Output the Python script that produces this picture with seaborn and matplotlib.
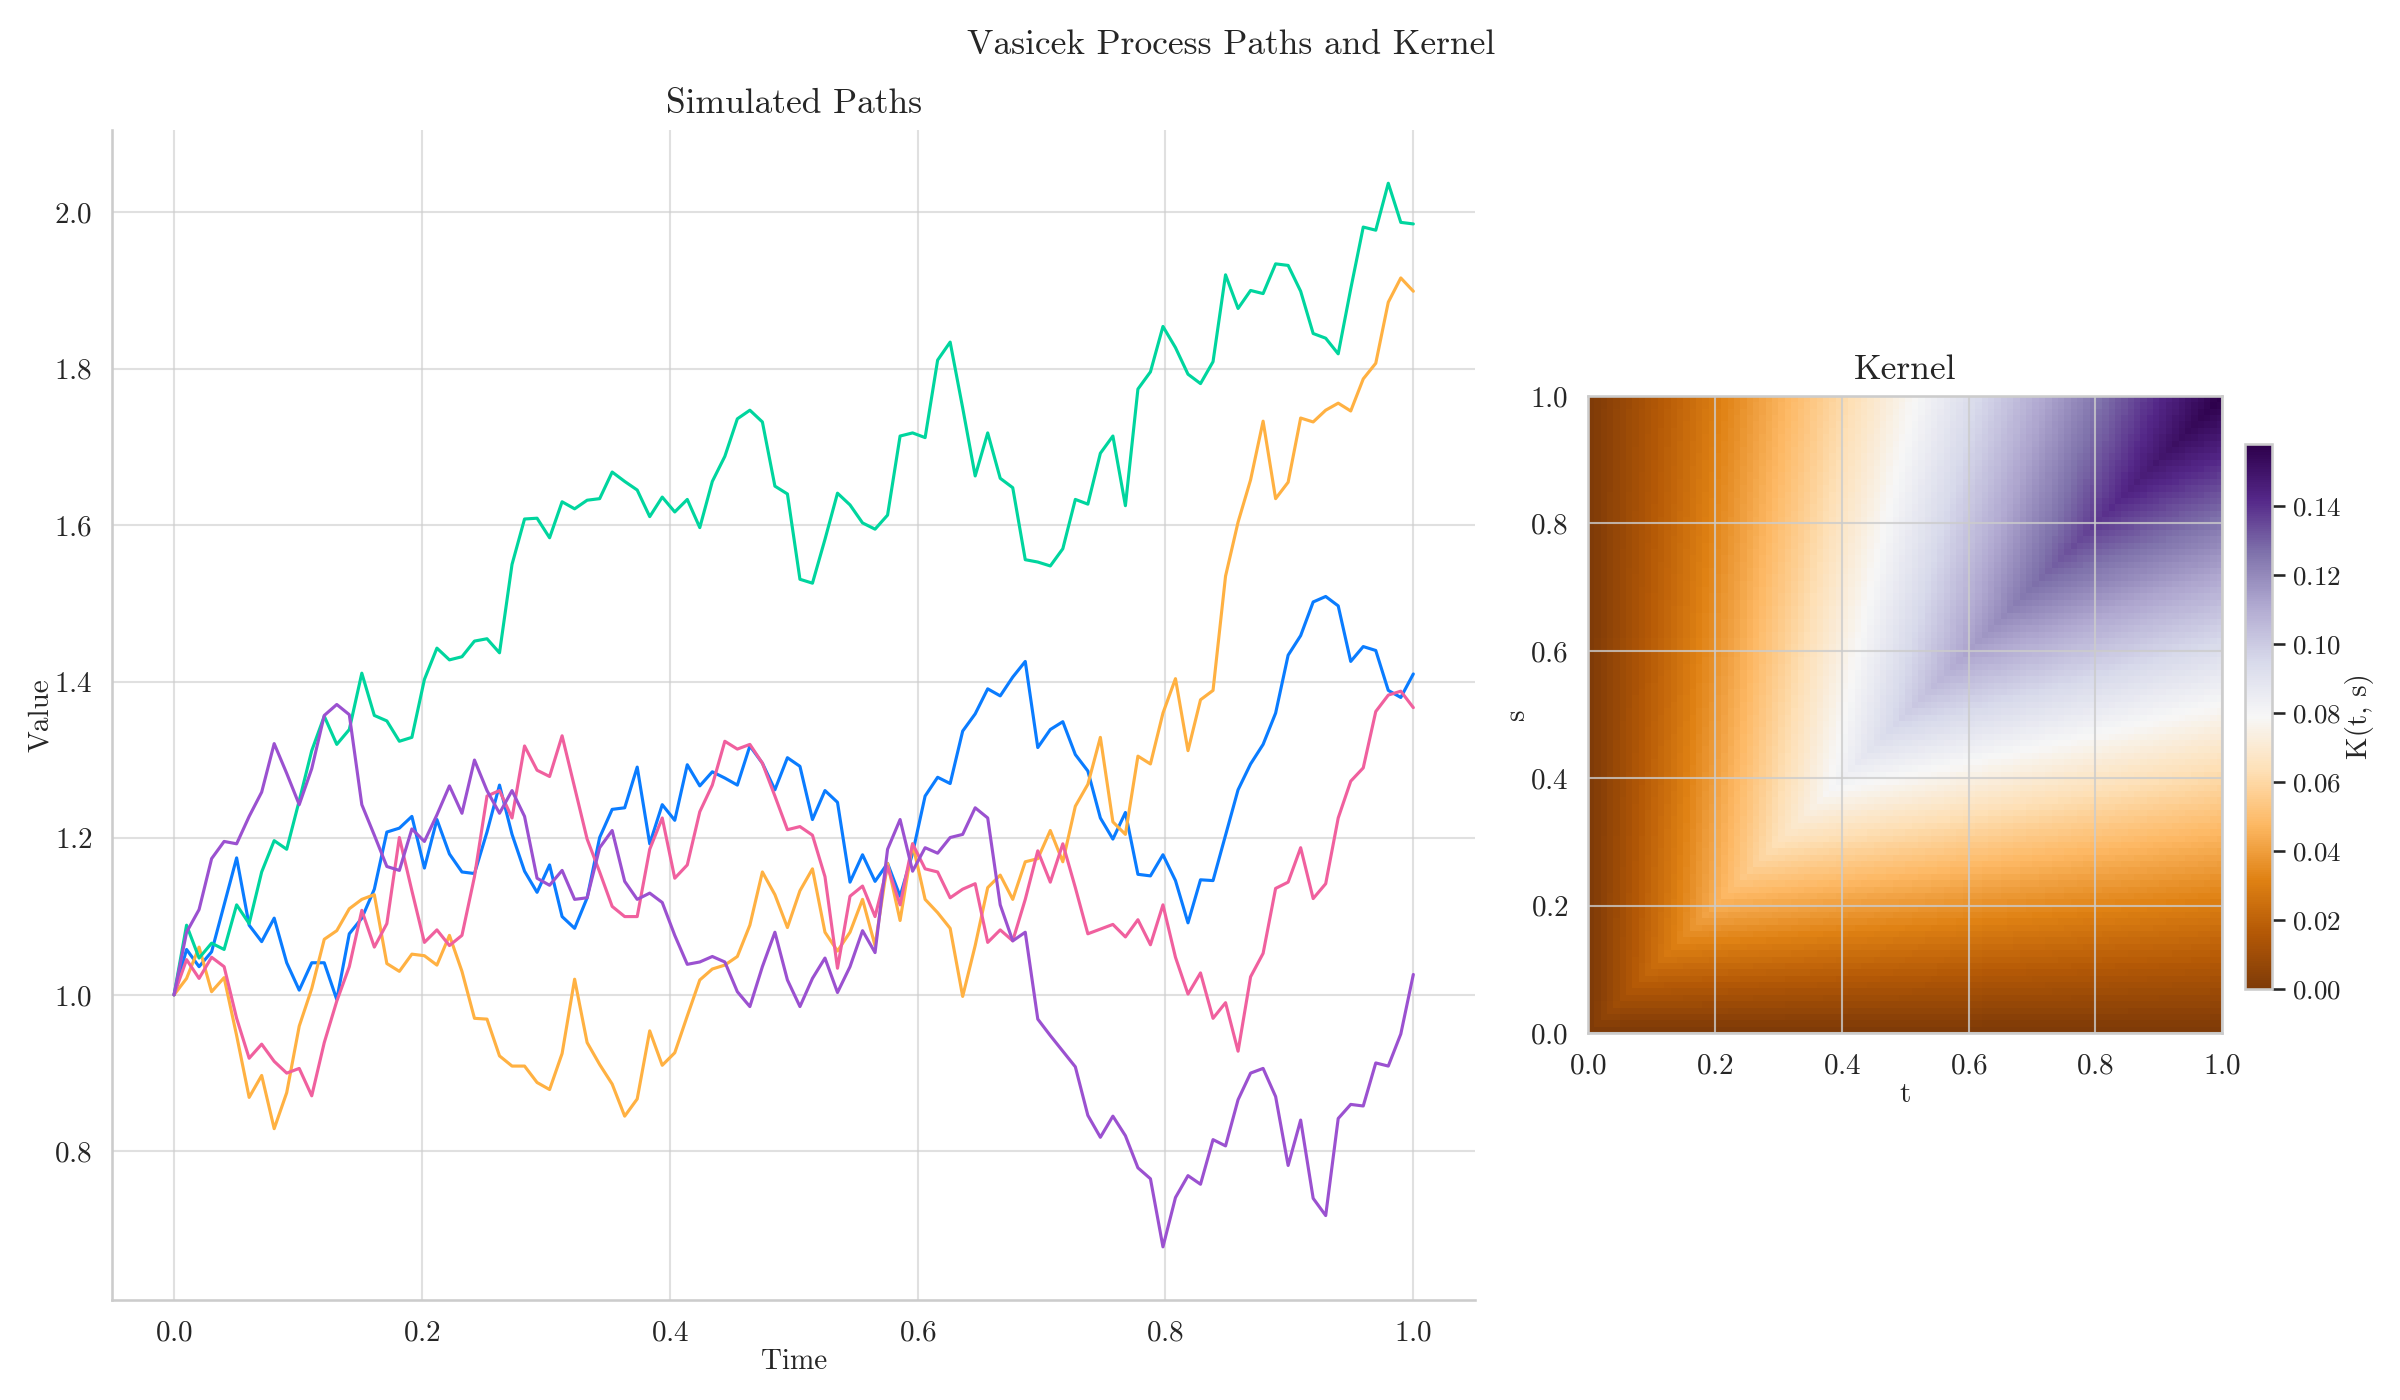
import numpy as np
import pandas as pd
import seaborn as sns
import matplotlib.pyplot as plt

# five simulated paths (100 points on [0, 1])
time = np.linspace(0, 1, 100)

path_blue = [1.000, 1.058, 1.036, 1.055, 1.115, 1.175, 1.089, 1.068, 1.098, 1.041,
             1.006, 1.041, 1.041, 0.994, 1.078, 1.098, 1.135, 1.208, 1.213, 1.228,
             1.162, 1.224, 1.180, 1.157, 1.155, 1.208, 1.268, 1.205, 1.158, 1.131,
             1.166, 1.100, 1.085, 1.124, 1.201, 1.237, 1.239, 1.291, 1.193, 1.243,
             1.223, 1.294, 1.267, 1.285, 1.277, 1.268, 1.318, 1.296, 1.262, 1.303,
             1.292, 1.224, 1.261, 1.246, 1.144, 1.179, 1.145, 1.168, 1.126, 1.181,
             1.254, 1.278, 1.270, 1.337, 1.359, 1.391, 1.382, 1.406, 1.426, 1.316,
             1.339, 1.349, 1.307, 1.286, 1.226, 1.199, 1.233, 1.154, 1.152, 1.179,
             1.146, 1.092, 1.147, 1.146, 1.204, 1.262, 1.295, 1.320, 1.360, 1.434,
             1.459, 1.502, 1.509, 1.497, 1.426, 1.445, 1.440, 1.389, 1.380, 1.410]

path_orange = [1.000, 1.021, 1.061, 1.004, 1.022, 0.948, 0.869, 0.897, 0.829, 0.875,
               0.960, 1.008, 1.071, 1.082, 1.110, 1.122, 1.128, 1.040, 1.030, 1.052,
               1.050, 1.038, 1.076, 1.030, 0.970, 0.969, 0.922, 0.909, 0.909, 0.888,
               0.879, 0.925, 1.020, 0.939, 0.911, 0.886, 0.845, 0.867, 0.954, 0.910,
               0.926, 0.973, 1.019, 1.033, 1.038, 1.049, 1.089, 1.157, 1.128, 1.086,
               1.133, 1.161, 1.080, 1.056, 1.080, 1.122, 1.063, 1.168, 1.095, 1.193,
               1.122, 1.105, 1.085, 0.998, 1.063, 1.137, 1.153, 1.122, 1.170, 1.174,
               1.210, 1.170, 1.241, 1.269, 1.329, 1.221, 1.205, 1.305, 1.295, 1.360,
               1.404, 1.312, 1.377, 1.389, 1.535, 1.604, 1.658, 1.733, 1.634, 1.655,
               1.737, 1.732, 1.747, 1.756, 1.746, 1.787, 1.807, 1.885, 1.916, 1.899]

path_green = [1.000, 1.089, 1.047, 1.066, 1.058, 1.115, 1.091, 1.157, 1.197, 1.186,
              1.248, 1.312, 1.356, 1.320, 1.339, 1.411, 1.357, 1.350, 1.324, 1.329,
              1.403, 1.443, 1.428, 1.432, 1.452, 1.455, 1.437, 1.550, 1.608, 1.609,
              1.584, 1.630, 1.621, 1.632, 1.634, 1.668, 1.656, 1.645, 1.611, 1.636,
              1.617, 1.633, 1.597, 1.656, 1.688, 1.736, 1.747, 1.732, 1.650, 1.640,
              1.531, 1.526, 1.582, 1.641, 1.626, 1.603, 1.595, 1.613, 1.714, 1.718,
              1.712, 1.811, 1.834, 1.750, 1.663, 1.718, 1.660, 1.648, 1.556, 1.553,
              1.548, 1.570, 1.633, 1.627, 1.692, 1.714, 1.625, 1.774, 1.796, 1.854,
              1.827, 1.793, 1.781, 1.809, 1.920, 1.877, 1.900, 1.896, 1.934, 1.932,
              1.899, 1.845, 1.839, 1.819, 1.902, 1.981, 1.977, 2.037, 1.987, 1.985]

path_pink = [1.000, 1.045, 1.021, 1.048, 1.036, 0.970, 0.919, 0.937, 0.915, 0.900,
             0.906, 0.871, 0.939, 0.992, 1.036, 1.108, 1.061, 1.091, 1.201, 1.133,
             1.067, 1.083, 1.063, 1.076, 1.151, 1.254, 1.261, 1.226, 1.318, 1.287,
             1.279, 1.331, 1.265, 1.199, 1.157, 1.113, 1.100, 1.100, 1.186, 1.226,
             1.149, 1.166, 1.234, 1.268, 1.324, 1.314, 1.320, 1.296, 1.254, 1.211,
             1.215, 1.204, 1.151, 1.034, 1.126, 1.139, 1.100, 1.164, 1.115, 1.193,
             1.161, 1.157, 1.124, 1.135, 1.142, 1.067, 1.083, 1.069, 1.122, 1.184,
             1.144, 1.193, 1.137, 1.078, 1.084, 1.090, 1.074, 1.096, 1.064, 1.115,
             1.048, 1.001, 1.028, 0.970, 0.990, 0.928, 1.023, 1.053, 1.136, 1.144,
             1.188, 1.123, 1.142, 1.226, 1.273, 1.290, 1.362, 1.383, 1.388, 1.367]

path_purple = [1.000, 1.080, 1.109, 1.174, 1.196, 1.193, 1.228, 1.259, 1.321, 1.283,
               1.243, 1.289, 1.357, 1.371, 1.358, 1.243, 1.204, 1.164, 1.159, 1.212,
               1.196, 1.230, 1.267, 1.232, 1.300, 1.261, 1.232, 1.261, 1.228, 1.149,
               1.140, 1.159, 1.122, 1.124, 1.188, 1.210, 1.145, 1.122, 1.130, 1.118,
               1.076, 1.039, 1.042, 1.049, 1.042, 1.004, 0.985, 1.036, 1.080, 1.019,
               0.985, 1.021, 1.047, 1.003, 1.036, 1.082, 1.054, 1.186, 1.224, 1.158,
               1.188, 1.181, 1.201, 1.205, 1.239, 1.226, 1.115, 1.069, 1.080, 0.969,
               0.948, 0.928, 0.908, 0.846, 0.818, 0.845, 0.820, 0.779, 0.765, 0.678,
               0.741, 0.769, 0.758, 0.815, 0.807, 0.866, 0.900, 0.906, 0.870, 0.782,
               0.840, 0.740, 0.718, 0.842, 0.860, 0.858, 0.913, 0.909, 0.950, 1.026]

path_colors = ['#0a7cff', '#ffb142', '#00d59e', '#f0609e', '#9b51d0']

# Vasicek covariance kernel parameters (estimated from the colour scale)
theta = 0.5
sigma = 0.5
kernel_points = 100

sns.set_theme(style='whitegrid')
plt.rcParams['font.family'] = ['cmr10', 'DejaVu Serif']
plt.rcParams['axes.formatter.use_mathtext'] = True
plt.rcParams['mathtext.fontset'] = 'cm'
text_color = '#262626'

paths = pd.DataFrame({'Time': time, 'blue': path_blue, 'orange': path_orange,
                      'green': path_green, 'pink': path_pink, 'purple': path_purple})

fig = plt.figure(figsize=(16, 28 / 3), dpi=150)
ax1 = fig.add_axes([0.0467, 0.0714, 0.568, 0.8357])
ax2 = fig.add_axes([0.6617, 0.2621, 0.2642, 0.455])
cax = fig.add_axes([0.9355, 0.2936, 0.0112, 0.3893])

# left: simulated paths
for name, color in zip(['blue', 'orange', 'green', 'pink', 'purple'], path_colors):
    sns.lineplot(data=paths, x='Time', y=name, color=color, linewidth=1.5, ax=ax1)
ax1.set_title('Simulated Paths', fontsize=17, color=text_color, pad=8)
ax1.set_xlabel('Time', fontsize=14, color=text_color, labelpad=1)
ax1.set_ylabel('Value', fontsize=14, color=text_color, labelpad=0)
ax1.tick_params(labelsize=14, colors=text_color)
ax1.grid(color='.8', alpha=0.6)
sns.despine(ax=ax1)
for sp in ax1.spines.values():
    sp.set_color('.8')

# right: kernel heatmap
grid = np.linspace(0, 1, kernel_points)
tt, ss = np.meshgrid(grid, grid)
K = sigma ** 2 / (2 * theta) * (np.exp(-theta * np.abs(tt - ss)) - np.exp(-theta * (tt + ss)))
im = ax2.imshow(K, origin='lower', extent=[0, 1, 0, 1], cmap='PuOr', aspect='auto')
ax2.set_xticks([0, 0.2, 0.4, 0.6, 0.8, 1.0])
ax2.set_yticks([0, 0.2, 0.4, 0.6, 0.8, 1.0])
ax2.grid(color='.8', alpha=0.8)
ax2.set_title('Kernel', fontsize=17, color=text_color, pad=8)
ax2.set_xlabel('t', fontsize=14, color=text_color, labelpad=1)
ax2.set_ylabel('s', fontsize=14, color=text_color, labelpad=0)
ax2.tick_params(labelsize=14, colors=text_color)
for sp in ax2.spines.values():
    sp.set_color('.8')

cb = fig.colorbar(im, cax=cax)
cb.outline.set_edgecolor('.8')
cb.outline.set_linewidth(1.25)
cb.ax.tick_params(labelsize=13, colors=text_color)
cb.set_label('K(t, s)', fontsize=14, color=text_color, labelpad=2)

fig.suptitle('Vasicek Process Paths and Kernel', x=0.513, y=0.979, fontsize=17, color=text_color)

fig.savefig('out.png', dpi=150)
